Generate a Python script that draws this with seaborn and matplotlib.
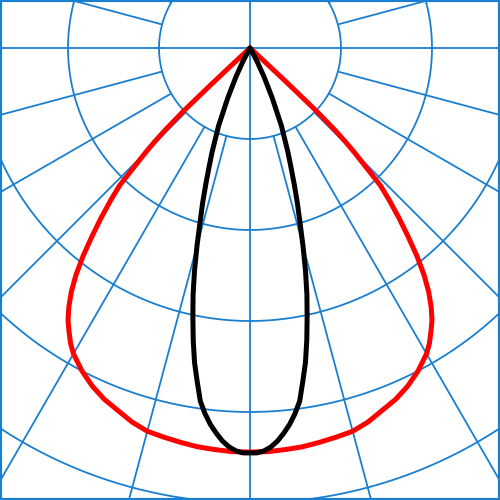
import numpy as np
import pandas as pd
import matplotlib
matplotlib.use("Agg")
import matplotlib.pyplot as plt
import seaborn as sns

# Light distribution values (cd/klm), angle measured from nadir, symmetric curves
red_angles = [0, 2.5, 5, 7.5, 10, 12.5, 15, 17.5, 20, 22.5, 25, 27.5, 30,
              31.25, 32.5, 33.75, 35, 36.25, 37.5, 38.75, 40, 41.25, 42.5,
              43.5, 44, 44.5, 45, 45.5, 46, 46.5, 46.8, 47, 47.2]
red_values = [444, 444, 443, 442, 440, 438, 436, 431, 424, 418, 410, 400, 388,
              380, 370, 360, 347, 332, 314, 293, 270, 248, 226,
              208, 190, 175, 162, 147, 128, 100, 60, 30, 0]

black_angles = [0, 1, 2, 3, 4, 5, 6, 7, 8, 9, 10, 11, 12, 13, 14, 15, 16, 17,
                18, 19, 20, 22, 24, 26, 28, 30]
black_values = [445, 445, 443, 439, 433, 425, 416, 405, 392, 371, 351, 327,
                302, 278, 252, 225, 199, 178, 157, 138, 122, 92, 60, 35, 16, 0]

ring_step = 100
rings = [100, 200, 300, 400, 500, 600]
spoke_angles = list(range(0, 360, 15))

grid_color = "#1a7fd0"


def to_xy(angles, values):
    # mirror around nadir and convert polar -> cartesian (0 deg points down)
    a = np.array(angles, dtype=float)
    v = np.array(values, dtype=float)
    a_full = np.concatenate([-a[::-1], a[1:]])
    v_full = np.concatenate([v[::-1], v[1:]])
    t = np.radians(a_full)
    return pd.DataFrame({"x": v_full * np.sin(t), "y": -v_full * np.cos(t)})


sns.set_style("white")
fig = plt.figure(figsize=(5, 5), dpi=100)
ax = fig.add_axes([0, 0, 1, 1])

# polar grid
phi = np.linspace(0, 2 * np.pi, 721)
for r in rings:
    ax.plot(r * np.cos(phi), r * np.sin(phi), color=grid_color, lw=1.3, zorder=1)
for ang in spoke_angles:
    t = np.radians(ang)
    r0 = 0 if ang % 90 == 0 else ring_step
    ax.plot([r0 * np.sin(t), 800 * np.sin(t)], [-r0 * np.cos(t), -800 * np.cos(t)],
            color=grid_color, lw=1.3, zorder=1)

red_df = to_xy(red_angles, red_values)
black_df = to_xy(black_angles, black_values)
sns.lineplot(data=red_df, x="x", y="y", sort=False, estimator=None,
             color="#ff0000", lw=3.6, ax=ax, zorder=3,
             solid_joinstyle="round", solid_capstyle="round")
sns.lineplot(data=black_df, x="x", y="y", sort=False, estimator=None,
             color="black", lw=3.6, ax=ax, zorder=4,
             solid_joinstyle="round", solid_capstyle="round")

scale = ring_step / 91.0
ax.set_xlim(-250 * scale, 250 * scale)
ax.set_ylim(-452 * scale, 48 * scale)
ax.set_aspect("equal")
ax.set_xticks([])
ax.set_yticks([])
ax.set_xlabel("")
ax.set_ylabel("")
for s in ax.spines.values():
    s.set_visible(True)
    s.set_color(grid_color)
    s.set_linewidth(3)

fig.savefig("out.png", dpi=100, facecolor="white")
